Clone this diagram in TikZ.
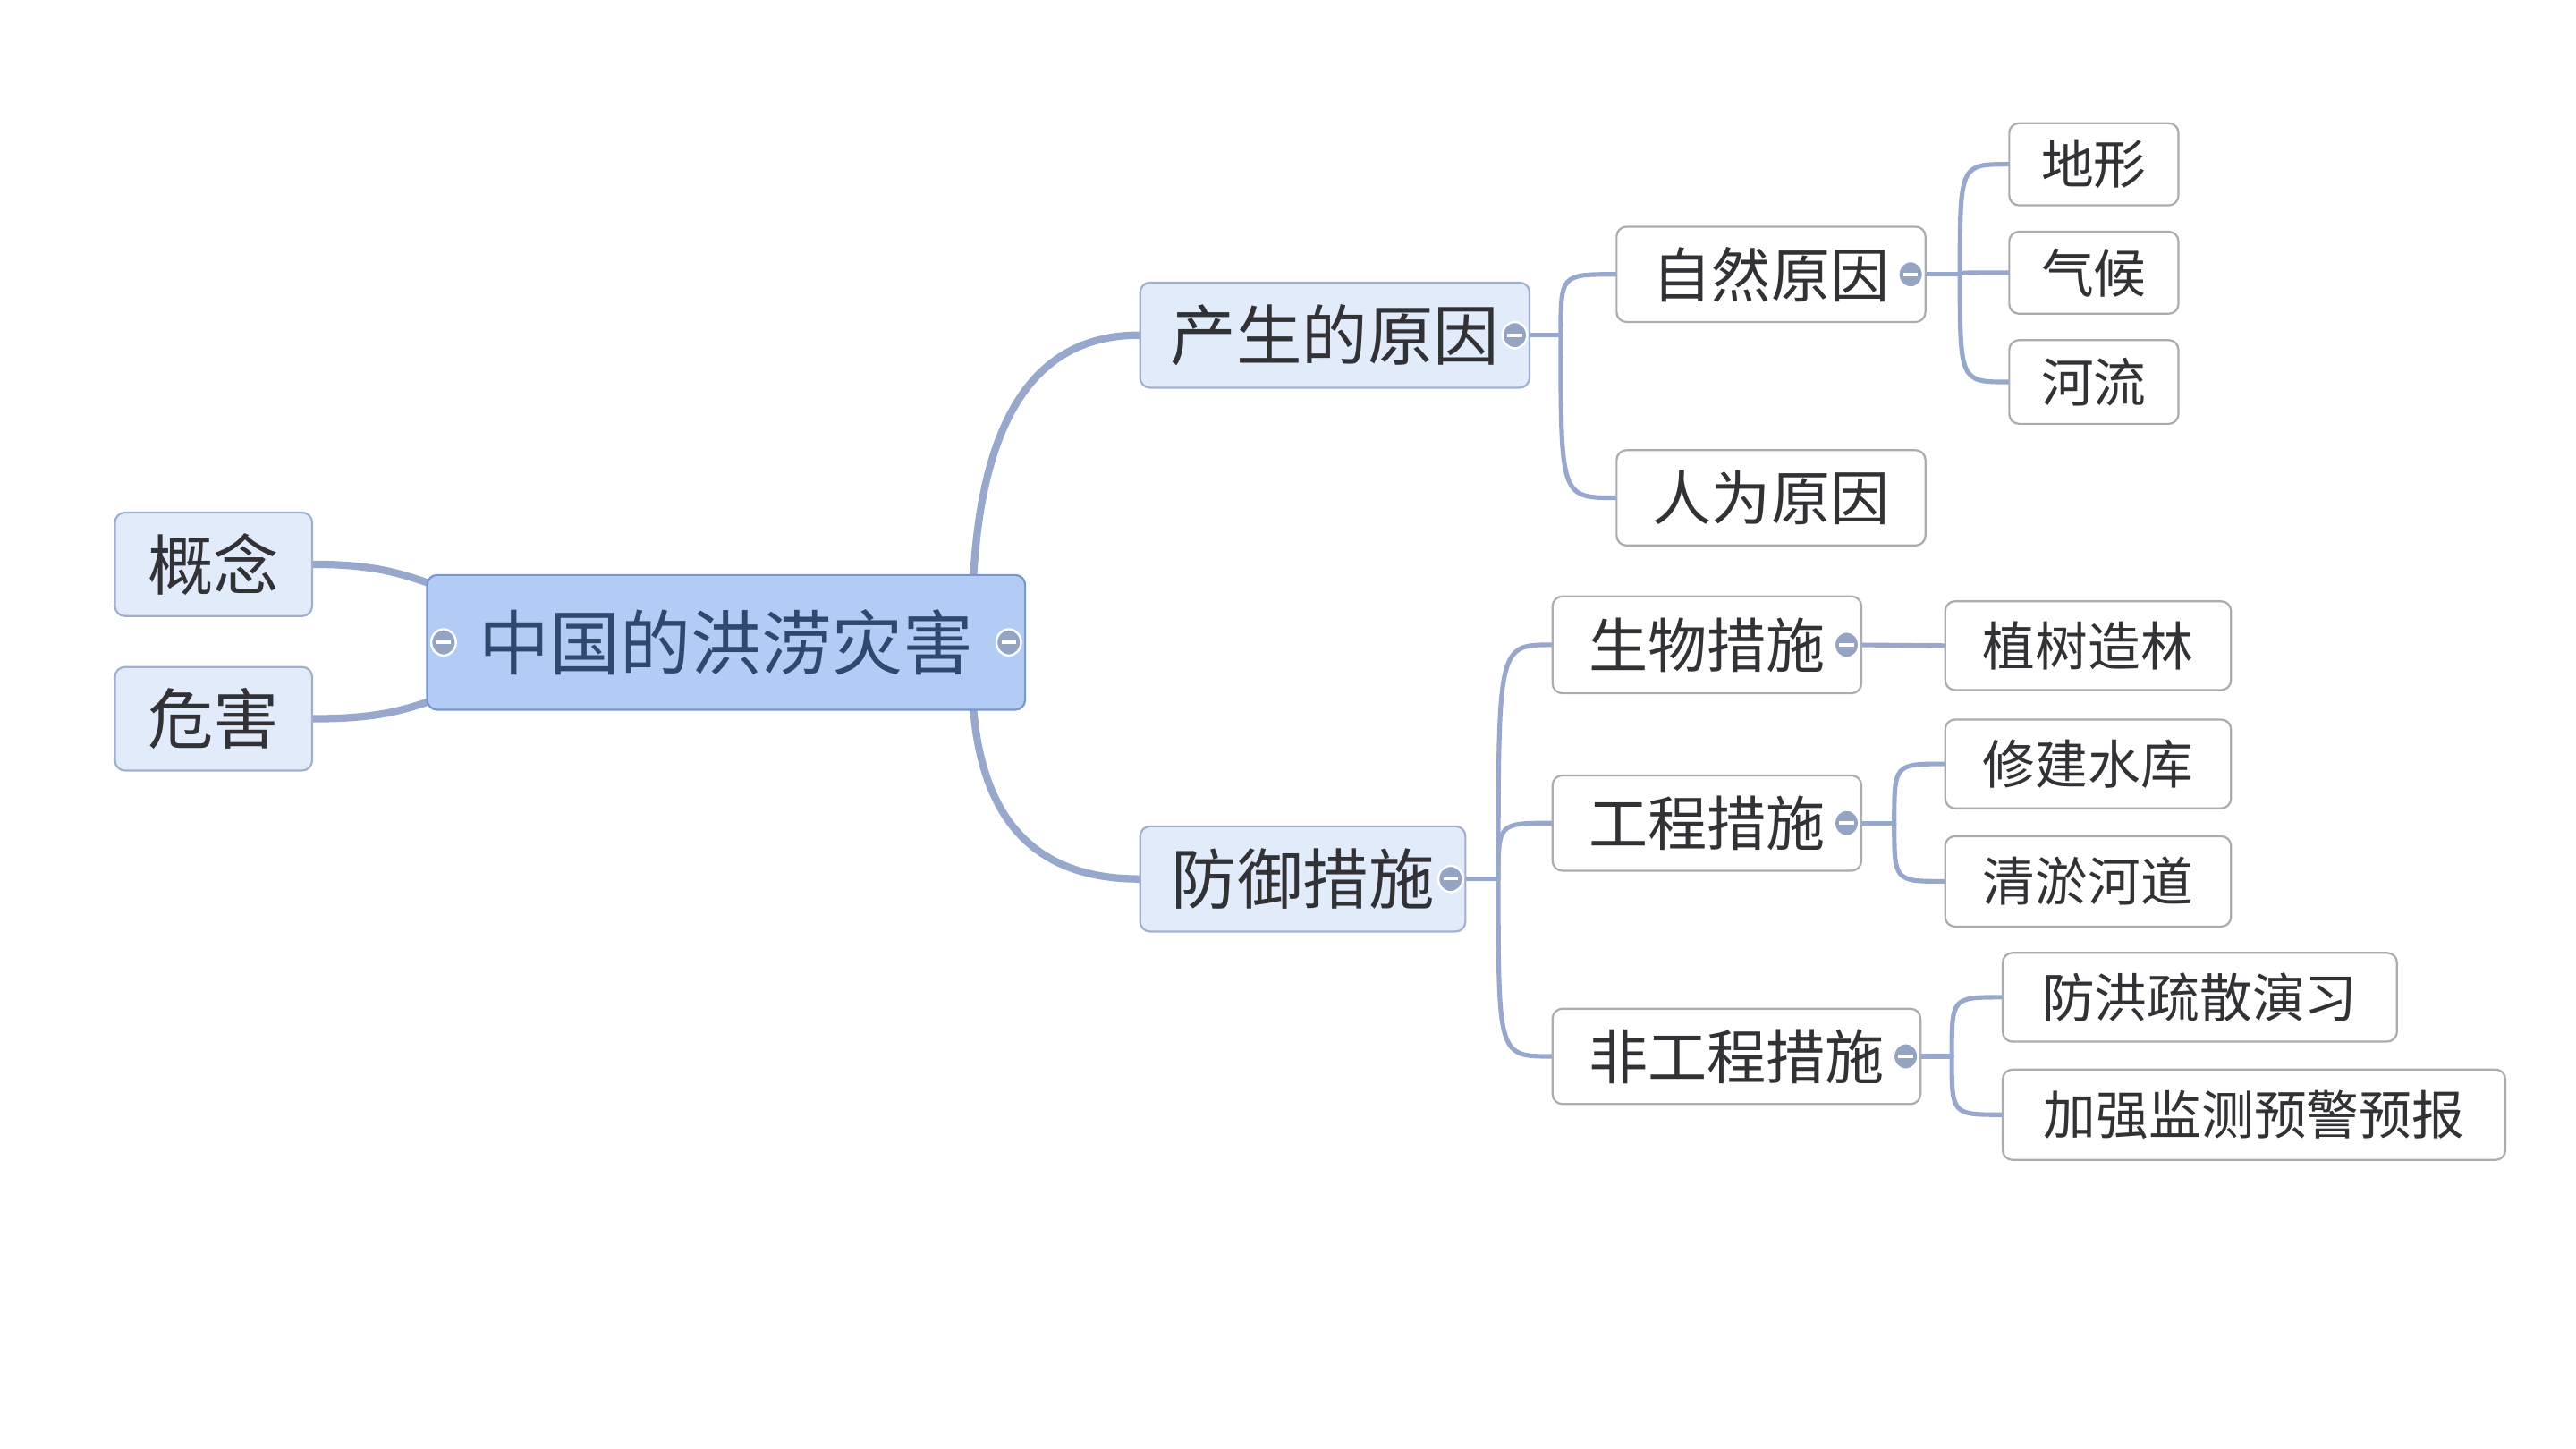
\documentclass[tikz,border=0pt]{standalone}
\usepackage{fontspec}
\newfontfamily\cjk{Noto Sans CJK SC}
\usetikzlibrary{calc,shapes.geometric}
\pgfdeclarelayer{bg}
\pgfsetlayers{bg,main}
\definecolor{cfill}{RGB}{178,204,246}
\definecolor{cdraw}{RGB}{120,150,205}
\definecolor{lfill}{RGB}{226,235,250}
\definecolor{ldraw}{RGB}{160,176,205}
\definecolor{wdraw}{RGB}{170,172,178}
\definecolor{conn}{RGB}{152,168,204}
\definecolor{txt}{RGB}{50,50,54}
\definecolor{ctxt}{RGB}{46,72,110}
\definecolor{knob}{RGB}{150,164,196}
\tikzset{
  base/.style={rectangle, rounded corners=6pt, inner sep=0pt, font=\cjk, text=txt, line width=1.2pt},
  ctr/.style={base, fill=cfill, draw=cdraw, text=ctxt, font=\cjk\fontsize{43}{48}\selectfont},
  lone/.style={base, fill=lfill, draw=ldraw, font=\cjk\fontsize{40}{46}\selectfont},
  ltwo/.style={base, fill=white, draw=wdraw, font=\cjk\fontsize{36}{42}\selectfont},
  lthree/.style={base, fill=white, draw=wdraw, font=\cjk\fontsize{32}{38}\selectfont},
  sz/.style 2 args={minimum width=#1pt, minimum height=#2pt},
  thick conn/.style={draw=conn, line width=4.5pt, line cap=round},
  thin conn/.style={draw=conn, line width=2.8pt, line cap=round},
  forkto/.style={to path={.. controls (\tikztostart |- \tikztotarget) .. (\tikztotarget)}},
  knobc/.style={ellipse, fill=knob, draw=white, line width=1.3pt, minimum width=15pt, minimum height=16pt, inner sep=0pt, path picture={\draw[white, line width=2pt] ([xshift=-4.5pt]path picture bounding box.center) -- ([xshift=4.5pt]path picture bounding box.center);}}
}
\begin{document}
\begin{tikzpicture}[x=1pt,y=1pt]
\useasboundingbox (0,0) rectangle (1568,-882);
% nodes
\node[ctr, sz={364}{82}] (c) at (442,-391) {中国的洪涝灾害};
\node[lone, sz={120}{63}] (gn) at (130,-343.5) {概念};
\node[lone, sz={120}{63}] (wh) at (130,-437.5) {危害};
\node[lone, sz={237}{64}] (yy) at (812.5,-204) {产生的原因};
\node[lone, sz={198}{64}] (fy) at (793,-535) {防御措施};
\node[ltwo, sz={188}{58}] (zr) at (1078,-167) {自然原因};
\node[ltwo, sz={188}{58}] (rw) at (1078,-303) {人为原因};
\node[lthree, sz={103}{50}] (dx) at (1274.5,-100) {地形};
\node[lthree, sz={103}{50}] (qh) at (1274.5,-166) {气候};
\node[lthree, sz={103}{51}] (hl) at (1274.5,-232.5) {河流};
\node[ltwo, sz={188}{59}] (sw) at (1039,-392.5) {生物措施};
\node[ltwo, sz={188}{58}] (gc) at (1039,-501) {工程措施};
\node[ltwo, sz={224}{58}] (fg) at (1057,-643) {非工程措施};
\node[lthree, sz={174}{54}] (zs) at (1271,-393) {植树造林};
\node[lthree, sz={174}{54}] (xj) at (1271,-465) {修建水库};
\node[lthree, sz={174}{55}] (qy) at (1271,-536.5) {清淤河道};
\node[lthree, sz={240}{54}] (fh) at (1339,-607) {防洪疏散演习};
\node[lthree, sz={306}{55}] (jq) at (1372,-678.5) {加强监测预警预报};
% anchor points
\coordinate (ctop) at ($(c.north east)+(-32,0)$);
\coordinate (cbot) at ($(c.south east)+(-32,0)$);
\coordinate (cul) at ($(c.north west)+(3,-6)$);
\coordinate (cll) at ($(c.south west)+(3,6)$);
\coordinate (fk1) at (950,-204);
\coordinate (fk2) at (1193,-167);
\coordinate (fk3) at (912,-535);
\coordinate (fk4) at (1153,-501);
\coordinate (fk5) at (1188,-643);
% knobs
\node[knobc] (kcl) at (270,-391) {};
\node[knobc] (kcr) at (614,-391) {};
\node[knobc] (kyy) at (922,-204) {};
\node[knobc] (kfy) at (883,-535) {};
\node[knobc] (kzr) at (1163,-167) {};
\node[knobc] (ksw) at (1124,-392.5) {};
\node[knobc] (kgc) at (1124,-501) {};
\node[knobc] (kfg) at (1160,-643) {};
% connectors
\begin{pgfonlayer}{bg}
\draw[thick conn] (ctop) .. controls ($(ctop)+(6,100)$) and ($(yy.west)+(-60,0)$) .. (yy.west);
\draw[thick conn] (cbot) .. controls ($(cbot)+(6,-70)$) and ($(fy.west)+(-60,0)$) .. (fy.west);
\draw[thick conn] (gn.east) .. controls ($(gn.east)+(38,0)$) and ($(cul)+(-18,6)$) .. (cul);
\draw[thick conn] (wh.east) .. controls ($(wh.east)+(38,0)$) and ($(cll)+(-18,-6)$) .. (cll);
\draw[thin conn] (kyy.center) -- (fk1);
\draw[thin conn] (fk1) to[forkto] (zr.west);
\draw[thin conn] (fk1) to[forkto] (rw.west);
\draw[thin conn] (kzr.center) -- (fk2);
\draw[thin conn] (fk2) to[forkto] (dx.west);
\draw[thin conn] (fk2) to[forkto] (qh.west);
\draw[thin conn] (fk2) to[forkto] (hl.west);
\draw[thin conn] (kfy.center) -- (fk3);
\draw[thin conn] (fk3) to[forkto] (sw.west);
\draw[thin conn] (fk3) to[forkto] (gc.west);
\draw[thin conn] (fk3) to[forkto] (fg.west);
\draw[thin conn] (ksw.center) -- (zs.west);
\draw[thin conn] (kgc.center) -- (fk4);
\draw[thin conn] (fk4) to[forkto] (xj.west);
\draw[thin conn] (fk4) to[forkto] (qy.west);
\draw[thin conn] (kfg.center) -- (fk5);
\draw[thin conn] (fk5) to[forkto] (fh.west);
\draw[thin conn] (fk5) to[forkto] (jq.west);
\end{pgfonlayer}
\end{tikzpicture}
\end{document}
